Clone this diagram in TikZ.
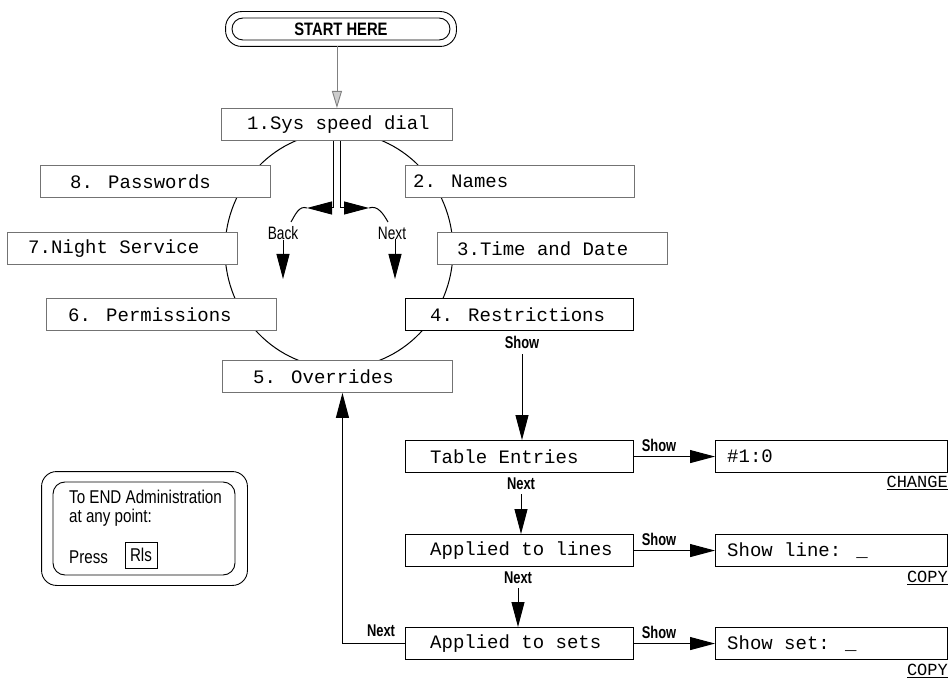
\documentclass[tikz,border=0pt]{standalone}
\usepackage{fontspec}
\usetikzlibrary{arrows.meta,positioning}
\newfontfamily\lcdfont[WordSpace={1,0,0}]{Liberation Mono}
\newfontfamily\narrowfont[FakeStretch=0.82]{Liberation Sans}
\newfontfamily\slimfont[FakeStretch=0.76]{Liberation Sans}
\begin{document}
\begin{tikzpicture}[x=1pt,y=-1pt,
  menubox/.style={draw=black!55, line width=0.9pt, fill=white, minimum height=32pt,
    minimum width=231pt, inner sep=0pt, anchor=north west},
  flowbox/.style={menubox, draw=black, line width=1.1pt, minimum width=228pt},
  scrbox/.style={flowbox, minimum width=232pt},
  lcdtext/.style={inner sep=0pt, anchor=west, font=\lcdfont\fontsize{19}{21}\selectfont},
  lbl/.style={inner sep=0pt, font=\slimfont\fontsize{18}{20}\selectfont},
  blbl/.style={inner sep=0pt, font=\slimfont\bfseries\fontsize{17}{19}\selectfont},
  endtxt/.style={inner sep=0pt, font=\narrowfont\fontsize{18.5}{20}\selectfont},
  smalllcd/.style={inner sep=0pt, anchor=east, font=\lcdfont\fontsize{17}{19}\selectfont},
  fl/.style={line width=1pt, -{Triangle[length=25pt,width=13pt]}},
  sidearrow/.style={line width=1pt, -{Triangle[length=25pt,width=13pt]}},
  startarrow/.style={draw=black!50, line width=0.9pt, -{Triangle[length=17pt,width=10pt,fill=black!20]}},
  ]
\useasboundingbox (0,0) rectangle (951,679);

% circle of menu items
\draw[line width=1pt] (339,250) ellipse [x radius=114, y radius=118];

% START HERE
\node[draw, line width=0.9pt, rounded corners=11pt, minimum width=218pt, minimum height=22pt,
  inner sep=0pt, font=\narrowfont\bfseries\fontsize{18}{20}\selectfont] (start) at (341,29) {START HERE};
\draw[line width=0.9pt, rounded corners=16pt] ([shift={(-6,6)}]start.south west) rectangle ([shift={(6,-6)}]start.north east);

% menu boxes
\node[menubox] (b1) at (221,108) {};
\node[menubox, minimum width=229pt] (b2) at (405,165) {};
\node[menubox, minimum width=230pt] (b3) at (437,232) {};
\node[flowbox] (b4) at (405,298) {};
\node[menubox, minimum width=230pt] (b5) at (222,360) {};
\node[menubox, minimum width=230pt] (b6) at (46,298)  {};
\node[menubox, minimum width=230pt] (b7) at (7,232)   {};
\node[menubox, minimum width=230pt] (b8) at (40,165)  {};
\node[lcdtext, right=26pt of b1.west] (t1) {1.Sys speed dial};
\node[lcdtext, right=8pt of b2.west]  (t2) {2. Names};
\node[lcdtext, right=20pt of b3.west] (t3) {3.Time and Date};
\node[lcdtext, right=25pt of b4.west] (t4) {4. Restrictions};
\node[lcdtext, right=31pt of b5.west] (t5) {5. Overrides};
\node[lcdtext, right=22pt of b6.west] (t6) {6. Permissions};
\node[lcdtext, right=21pt of b7.west] (t7) {7.Night Service};
\node[lcdtext, right=30pt of b8.west] (t8) {8. Passwords};

% start arrow
\draw[startarrow] ([yshift=-6pt]start.south -| b1.north) -- (b1.north);

% Back / Next split
\coordinate (bktip) at (307,208);
\coordinate (bkend) at (291,222);
\coordinate (nxtip) at (369,208);
\coordinate (nxend) at (388,222);
\draw[sidearrow] ([xshift=-3.5pt]b1.south) |- (bktip);
\draw[sidearrow] ([xshift=3.5pt]b1.south) |- (nxtip);
\draw[line width=1pt] (bktip) to[out=160,in=60] (bkend);
\draw[line width=1pt] (nxtip) to[out=20,in=120] (nxend);
\node[lbl] (backlbl) at (283,233) {Back};
\node[lbl] (nextlbl) at (392,233) {Next};
\coordinate (backtip) at (283,279);
\coordinate (nexttip) at (395,279);
\draw[fl] (backlbl.south -| backtip) -- (backtip);
\draw[fl] (nextlbl.south -| nexttip) -- (nexttip);

% restriction sub menu
\node[flowbox] (tbl)   at (405,440) {};
\node[flowbox] (lines) at (405,534) {};
\node[flowbox] (sets)  at (405,627) {};
\node[scrbox]  (scr1)  at (715,440) {};
\node[scrbox]  (scr2)  at (715,534) {};
\node[scrbox]  (scr3)  at (715,627) {};
\node[lcdtext, right=25pt of tbl.west]   (t9)  {Table Entries};
\node[lcdtext, right=25pt of lines.west] (t10) {Applied to lines};
\node[lcdtext, right=25pt of sets.west]  (t11) {Applied to sets};
\node[lcdtext, right=12pt of scr1.west]  (t12) {\#1:0};
\node[lcdtext, right=12pt of scr2.west]  (t13) {Show line: \_};
\node[lcdtext, right=12pt of scr3.west]  (t14) {Show set: \_};

\node[blbl] (show0) at (522,342) {Show};
\draw[fl] (show0.south) ++(0,6) -- (show0.south |- tbl.north);

\node[blbl] (next1) at (521,484) {Next};
\draw[fl] ([yshift=-4pt]next1.south) -- (next1.south |- lines.north);
\node[blbl] (next2) at (518,578) {Next};
\draw[fl] ([yshift=-4pt]next2.south) -- (next2.south |- sets.north);

\node[blbl] (show1) at (659,445) {Show};
\node[blbl] (show2) at (659,539) {Show};
\node[blbl] (show3) at (659,632) {Show};
\draw[fl] (tbl.east) -- (scr1.west);
\draw[fl] (lines.east) -- (scr2.west);
\draw[fl] (sets.east) -- (scr3.west);

\node[smalllcd] (chg)   at (948,483) {\underline{CHANGE}};
\node[smalllcd] (copy1) at (948,578) {\underline{COPY}};
\node[smalllcd] (copy2) at (948,671) {\underline{COPY}};

% back to Overrides
\node[blbl] (next3) at (381,631) {Next};
\draw[fl] (sets.west) -| ([xshift=5pt]b5.south);

% END box
\node[draw, line width=0.9pt, rounded corners=12pt, minimum width=182pt, minimum height=93pt] (endin) at (144,528.5) {};
\draw[line width=0.9pt, rounded corners=15pt] ([shift={(-11,10)}]endin.south west) rectangle ([shift={(12,-10)}]endin.north east);
\node[endtxt, anchor=west] (end1) at (69,497) {To END Administration};
\node[endtxt, anchor=west] (end2) at (69,518) {at any point:};
\node[endtxt, anchor=west] (press) at (69,557) {Press};
\node[endtxt, draw, line width=0.9pt, minimum width=32pt, minimum height=26pt] (rls) at (141,555) {Rls};
\end{tikzpicture}
\end{document}
